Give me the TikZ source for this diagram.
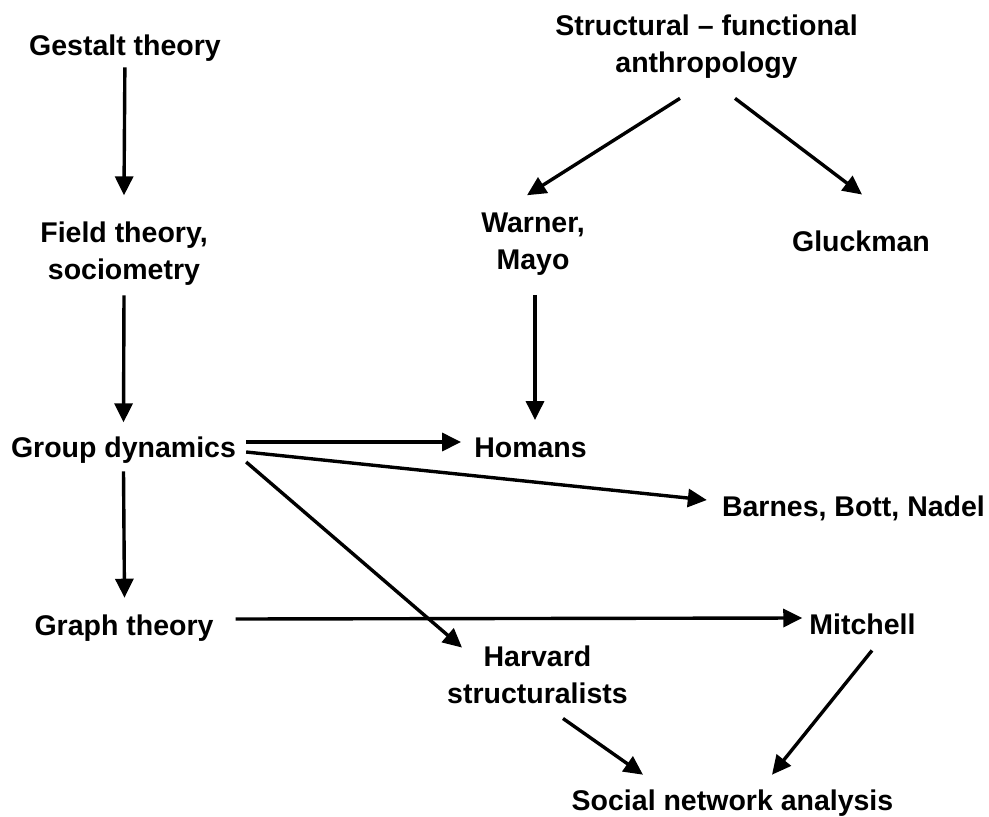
\documentclass[tikz,border=0pt]{standalone}
\usepackage{fontspec}
\setmainfont{Liberation Sans}
\usepackage{tikz}
\usetikzlibrary{arrows.meta}

\tikzset{
  topic/.style={font=\fontsize{28.5}{37}\selectfont\bfseries, align=center, inner sep=6pt},
  flow/.style={line width=3.4pt, -{Triangle[length=19pt,width=18pt]}}
}

\begin{document}
\begin{tikzpicture}[x=1pt, y=-1pt]
  \useasboundingbox (0,0) rectangle (989,817);

  % left column
  \node[topic] (gestalt) at (125,47.8) {Gestalt theory};
  \node[topic] (field) at (124,253.3) {Field theory,\\sociometry};
  \node[topic] (groupdyn) at (123.5,449.8) {Group dynamics};
  \node[topic] (graph) at (124,627.8) {Graph theory};

  % anthropology side
  \node[topic] (structfunc) at (706.5,46.3) {Structural -- functional\\anthropology};
  \node[topic] (warner) at (533,244.3) {Warner,\\Mayo};
  \node[topic] (gluckman) at (861,241.8) {Gluckman};
  \node[topic] (homans) at (530.5,447.8) {Homans};
  \node[topic] (barnes) at (853.5,508.8) {Barnes, Bott, Nadel};
  \node[topic] (harvard) at (537.5,675.3) {Harvard\\structuralists};
  \node[topic] (mitchell) at (862.5,624.8) {Mitchell};
  \node[topic] (sna) at (732.5,802.8) {Social network analysis};

  \draw[flow] (gestalt) -- ([yshift=20pt]field.north);
  \draw[flow] ([yshift=-4pt]field.south) -- ([yshift=8pt]groupdyn.north);
  \draw[flow] ([yshift=-2pt]groupdyn.south) -- ([xshift=0.5pt,yshift=10.6pt]graph.north);

  \draw[flow] ([xshift=-26.5pt,yshift=-14pt]structfunc.south) -- ([xshift=-6pt,yshift=11.6pt]warner.north);
  \draw[flow] ([xshift=28.5pt,yshift=-14pt]structfunc.south) -- ([xshift=1pt,yshift=30.6pt]gluckman.north);
  \draw[flow] ([xshift=2pt,yshift=-13pt]warner.south) -- ([xshift=4.5pt,yshift=11.6pt]homans.north);

  \draw[flow] ([xshift=4pt,yshift=7.8pt]groupdyn.east) -- ([xshift=-7pt,yshift=5.8pt]homans.west);
  \draw[flow] ([xshift=4pt,yshift=-2.2pt]groupdyn.east) -- ([xshift=-9pt,yshift=8.8pt]barnes.west);
  \draw[flow] ([xshift=4pt,yshift=-12.2pt]groupdyn.east) -- ([xshift=21pt,yshift=-7.4pt]harvard.north west);
  \draw[flow] ([xshift=16pt,yshift=8.8pt]graph.east) -- ([xshift=-1pt,yshift=6.8pt]mitchell.west);

  \draw[flow] ([xshift=25.5pt,yshift=-8pt]harvard.south) -- ([xshift=-89.5pt,yshift=8.6pt]sna.north);
  \draw[flow] ([xshift=9.5pt,yshift=-9pt]mitchell.south) -- ([xshift=39.5pt,yshift=8.6pt]sna.north);
\end{tikzpicture}
\end{document}
